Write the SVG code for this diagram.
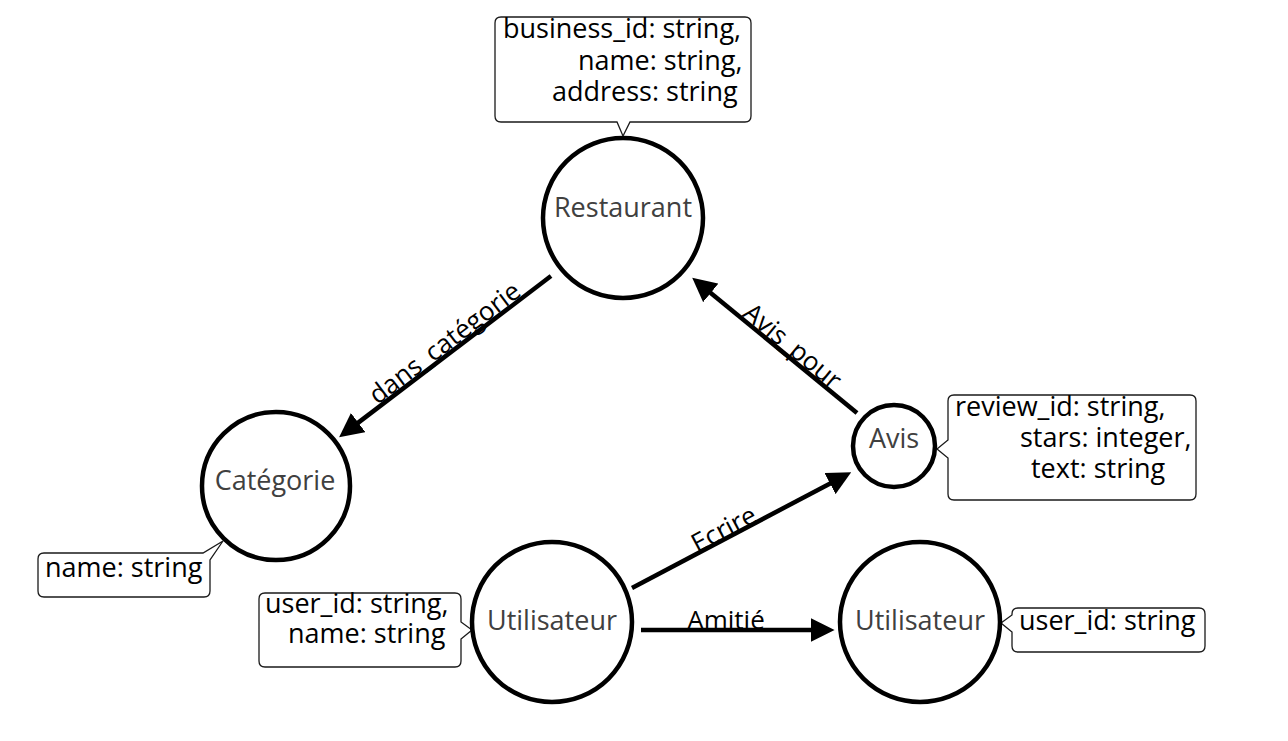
<svg xmlns="http://www.w3.org/2000/svg" width="1288" height="741" viewBox="0 0 1288 741">
<style>
.node{fill:#fff;stroke:#000;stroke-width:4.5}
.nl{font-family:"Open Sans","Noto Sans",sans-serif;font-size:27px;fill:#404040;text-anchor:middle}
.co{fill:#fff;stroke:#1a1a1a;stroke-width:1.3}
.ct{font-family:"Open Sans","Noto Sans",sans-serif;font-size:27px;fill:#000}
.edge{stroke:#000;stroke-width:4.5;fill:none;marker-end:url(#ah)}
.el{font-family:"Open Sans","Noto Sans",sans-serif;font-size:26px;fill:#000;text-anchor:middle}
</style>
<defs>
<marker id="ah" markerUnits="userSpaceOnUse" markerWidth="24" markerHeight="24" refX="2" refY="10" orient="auto" viewBox="0 0 20 20">
<path d="M0,0 L20,10 L0,20 Z" fill="#000"/>
</marker>
</defs>
<g id="connectors">
<line class="edge" x1="551" y1="276" x2="356.3" y2="424.1"/>
<text class="el" transform="translate(450,350) rotate(-37.3)">dans_catégorie</text>
<line class="edge" x1="857" y1="413" x2="708.9" y2="291.4"/>
<text class="el" transform="translate(787,353) rotate(39.4)">Avis_pour</text>
<line class="edge" x1="632" y1="588" x2="832.1" y2="482.4"/>
<text class="el" transform="translate(728,537) rotate(-27.8)">Ecrire</text>
<line class="edge" x1="641" y1="630" x2="813" y2="630"/>
<text class="el" x="726" y="629">Amitié</text>
</g>
<g id="restaurant">
<path class="co" d="M501 17 H745 Q751 17 751 23 V116 Q751 122 745 122 H630 L623 136 L617 122 H501 Q495 122 495 116 V23 Q495 17 501 17 Z"/>
<text class="ct"><tspan x="503" y="38">business_id: string,</tspan><tspan x="578" y="70">name: string,</tspan><tspan x="552" y="101">address: string</tspan></text>
<circle class="node" cx="623" cy="218" r="80"/>
<text class="nl" x="623" y="217">Restaurant</text>
</g>
<g id="categorie">
<path class="co" d="M44 553 H203 L223 541 L210 560 V591 Q210 597 204 597 H44 Q38 597 38 591 V559 Q38 553 44 553 Z"/>
<text class="ct" x="45" y="577">name: string</text>
<circle class="node" cx="276" cy="486" r="74"/>
<text class="nl" x="275" y="490">Catégorie</text>
</g>
<g id="avis">
<path class="co" d="M954 395 H1190 Q1196 395 1196 401 V494 Q1196 500 1190 500 H954 Q948 500 948 494 V458 L937 449 L948 440 V401 Q948 395 954 395 Z"/>
<text class="ct"><tspan x="955" y="416">review_id: string,</tspan><tspan x="1020" y="447">stars: integer,</tspan><tspan x="1031" y="478">text: string</tspan></text>
<circle class="node" cx="894" cy="446" r="41"/>
<text class="nl" x="894" y="448">Avis</text>
</g>
<g id="utilisateur1">
<path class="co" d="M265 593 H455 Q461 593 461 599 V622 L472 630 L461 639 V661 Q461 667 455 667 H265 Q259 667 259 661 V599 Q259 593 265 593 Z"/>
<text class="ct"><tspan x="265" y="613">user_id: string,</tspan><tspan x="288" y="643">name: string</tspan></text>
<circle class="node" cx="552" cy="622" r="80"/>
<text class="nl" x="552" y="630">Utilisateur</text>
</g>
<g id="utilisateur2">
<path class="co" d="M1018 608 H1199 Q1205 608 1205 614 V646 Q1205 652 1199 652 H1018 Q1012 652 1012 646 V632 L1001 623 L1012 615 V614 Q1012 608 1018 608 Z"/>
<text class="ct" x="1019" y="630">user_id: string</text>
<circle class="node" cx="920" cy="622" r="80"/>
<text class="nl" x="920" y="630">Utilisateur</text>
</g>
</svg>
